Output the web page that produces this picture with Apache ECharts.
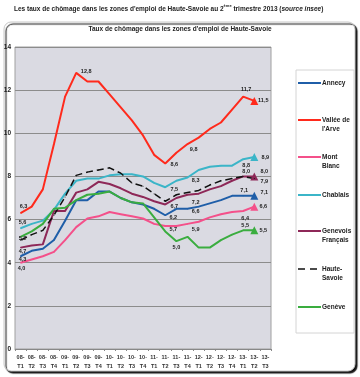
<!DOCTYPE html>
<html><head><meta charset="utf-8">
<script src="https://cdn.jsdelivr.net/npm/echarts@6/dist/echarts.min.js"></script>
<style>html,body{margin:0;padding:0;background:#fff}#c{width:360px;height:377px}</style>
</head><body><div id="c"></div><script>
// ---- data ----
const categories = ['08-\nT1','08-\nT2','08-\nT3','08-\nT4','09-\nT1','09-\nT2','09-\nT3','09-\nT4',
  '10-\nT1','10-\nT2','10-\nT3','10-\nT4','11-\nT1','11-\nT2','11-\nT3','11-\nT4',
  '12-\nT1','12-\nT2','12-\nT3','12-\nT4','13-\nT1','13-\nT2','13-\nT3'];
const seriesNames = ['Annecy', "Vallée de l'Arve", 'Mont Blanc', 'Chablais', 'Genevois Français', 'Haute-Savoie', 'Genève'];
const legendLabels = ['Annecy', "Vallée de\nl'Arve", 'Mont\nBlanc', 'Chablais', 'Genevois\nFrançais', 'Haute-\nSavoie', 'Genève'];
const annecy   = [4.3,4.55,4.65,5.05,5.95,6.9,6.9,7.3,7.3,7.0,6.8,6.7,6.5,6.2,6.5,6.5,6.6,6.75,6.9,7.1,7.1,7.1];
const arve     = [6.3,6.6,7.4,9.5,11.7,12.8,12.4,12.4,11.8,11.2,10.6,9.9,9.0,8.6,9.1,9.5,9.8,10.2,10.5,11.1,11.7,11.5];
const montBlanc= [4.0,4.15,4.3,4.5,5.05,5.65,6.05,6.15,6.35,6.25,6.15,6.05,5.8,5.7,5.7,5.8,5.9,6.1,6.25,6.35,6.4,6.6];
const chablais = [5.6,5.8,5.95,6.45,7.2,7.8,7.9,7.9,8.05,8.1,8.1,8.0,7.7,7.5,7.8,7.95,8.3,8.45,8.5,8.5,8.8,8.9];
const genevois = [4.7,4.8,4.85,6.4,6.4,7.25,7.4,7.75,7.65,7.45,7.2,7.05,6.85,6.7,7.0,7.15,7.2,7.4,7.55,7.8,8.0,8.0];
const hauteSavoie = [5.05,5.3,5.5,6.2,7.05,8.05,8.2,8.3,8.4,8.15,7.7,7.55,7.2,6.85,7.15,7.25,7.35,7.6,7.8,7.9,8.0,7.9];
const geneve   = [5.2,5.45,5.8,6.5,6.55,6.9,7.15,7.2,7.3,7.0,6.8,6.75,6.1,5.45,5.0,5.2,4.7,4.7,5.05,5.3,5.5,5.5];
const yMin = 0, yMax = 14, yStep = 2;

// ---- styles ----
const values = [annecy, arve, montBlanc, chablais, genevois, hauteSavoie, geneve];
const colors = ['#1f5ea8', '#ff2a1c', '#f4508a', '#3bb5c8', '#8e2858', '#111111', '#3aad3f'];
const widths = [2, 2, 2, 2, 2, 1.5, 2];
const dashed = [false, false, false, false, false, true, false];
const triangles = [true, true, true, true, true, false, true];
const labelOffsets = [
  {0:[2,3],13:[8,2],16:[-3,5],20:[1,-5],21:[10,-3]},
  {0:[3,-7],5:[10,-1],13:[9,1],16:[-5,12],20:[3,-7],21:[9,0]},
  {0:[1,6],13:[8,3],16:[-3,8],20:[2,8],21:[9,0]},
  {0:[2,-6],13:[9,2],16:[-3,11],20:[3,6],21:[11,0]},
  {0:[2,4],13:[9,2],16:[-3,9],20:[3,-5],21:[10,-5]},
  {21:[10,3]},
  {0:[2,2],14:[0,6],20:[2,-5],21:[9,0]}
];
const legendY = [83, 120, 157, 195, 231, 269, 307];
const FONT = 'Liberation Sans, Arial, sans-serif';
const fmt = v => v.toFixed(1).replace('.', ',');

const series = values.map((vals, s) => ({
  name: seriesNames[s],
  type: 'line',
  symbol: 'circle',
  symbolSize: 1,
  showSymbol: true,
  showAllSymbol: true,
  animation: false,
  silent: true,
  lineStyle: { color: colors[s], width: widths[s], type: dashed[s] ? [7, 4] : 'solid' },
  itemStyle: { color: colors[s] },
  data: vals.map((v, i) => {
    const item = { value: v };
    if (triangles[s] && i === vals.length - 1) { item.symbol = 'triangle'; item.symbolSize = 8; }
    const off = labelOffsets[s][i];
    if (off) {
      item.label = { show: true, position: 'inside', offset: off, formatter: p => fmt(p.value),
        fontSize: 5.5, fontWeight: 'bold', color: '#222', fontFamily: FONT };
    }
    return item;
  })
}));

const graphics = [
  { type: 'rect', z: -10, shape: { x: 4, y: 22, width: 351, height: 349, r: 7 },
    style: { fill: '#fff', stroke: '#c8c8c8', lineWidth: 1, shadowColor: '#111', shadowOffsetX: 2, shadowOffsetY: 2, shadowBlur: 1 } },
  { type: 'rect', z: 5, shape: { x: 296, y: 70, width: 58, height: 263 },
    style: { fill: '#fff', stroke: '#d4d4d4', lineWidth: 1 } }
];
seriesNames.forEach((n, i) => {
  graphics.push({ type: 'line', z: 10, shape: { x1: 298, y1: legendY[i], x2: 321, y2: legendY[i] },
    style: { stroke: colors[i], lineWidth: widths[i], lineDash: dashed[i] ? [7, 5] : null } });
  graphics.push({ type: 'text', z: 10, x: 322, y: legendY[i] - 4.5,
    style: { text: legendLabels[i], fill: '#222', font: 'bold 6.5px ' + FONT, lineHeight: 9, verticalAlign: 'top', align: 'left' } });
});

const chart = echarts.init(document.getElementById('c'), null, { renderer: 'canvas' });
chart.setOption({
  animation: false,
  backgroundColor: '#fff',
  title: [
    { text: "{a|Les taux de chômage dans les zones d'emploi de Haute-Savoie au 2}{s|ème}{a| trimestre 2013 (}{i|source insee}{a|)}",
      left: 14, top: 4, padding: 0,
      textStyle: { rich: {
        a: { fontSize: 6.5, fontWeight: 'bold', color: '#222', fontFamily: FONT, lineHeight: 10 },
        s: { fontSize: 4, fontWeight: 'bold', color: '#222', fontFamily: FONT, verticalAlign: 'top', lineHeight: 10, padding: [0,0,4,0] },
        i: { fontSize: 6.5, fontWeight: 'bold', fontStyle: 'italic', color: '#222', fontFamily: FONT, lineHeight: 10 }
      } } },
    { text: "Taux de chômage dans les zones d'emploi de Haute-Savoie", left: 'center', top: 26, padding: 0,
      textStyle: { fontSize: 6.5, fontWeight: 'bold', color: '#222', fontFamily: FONT } }
  ],
  grid: { left: 15, right: 89, top: 47, bottom: 28, show: true, backgroundColor: '#dadae2', borderColor: '#a0a0a0', borderWidth: 1 },
  xAxis: {
    type: 'category', data: categories, boundaryGap: true,
    axisLine: { lineStyle: { color: '#888' } },
    axisTick: { show: true, length: 2, lineStyle: { color: '#888' } },
    axisLabel: { interval: 0, margin: 4, fontSize: 5.5, fontWeight: 'bold', color: '#333', lineHeight: 9, fontFamily: FONT }
  },
  yAxis: {
    type: 'value', min: yMin, max: yMax, interval: yStep,
    axisLine: { show: false }, axisTick: { show: false },
    splitLine: { lineStyle: { color: '#8c8c8c', width: 1 } },
    axisLabel: { margin: 4, fontSize: 6.5, fontWeight: 'bold', color: '#222', fontFamily: FONT }
  },
  series: series,
  graphic: { elements: graphics }
});
</script></body></html>
